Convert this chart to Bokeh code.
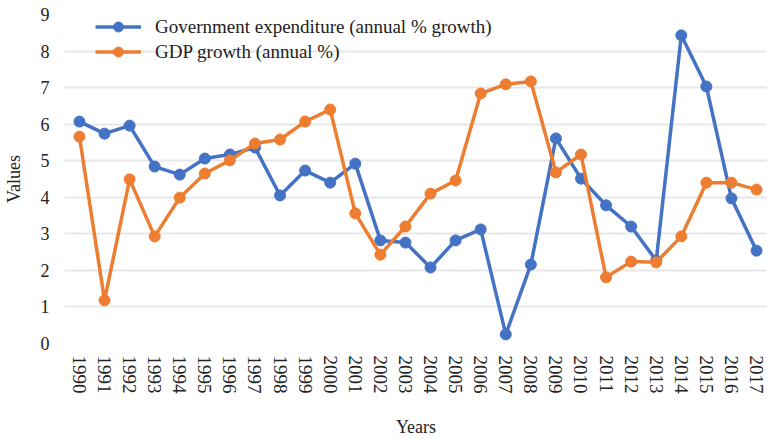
from bokeh.plotting import figure
from bokeh.models import Legend, LegendItem, FixedTicker, Range1d
from bokeh.embed import file_html
from bokeh.resources import INLINE

years = list(range(1990, 2018))
gov_exp = [6.07, 5.74, 5.96, 4.84, 4.62, 5.06, 5.17, 5.36, 4.05, 4.73, 4.40, 4.92,
           2.82, 2.76, 2.08, 2.82, 3.12, 0.25, 2.16, 5.61, 4.51, 3.78, 3.20, 2.27,
           8.43, 7.03, 3.97, 2.54]
gdp = [5.66, 1.18, 4.49, 2.93, 3.99, 4.65, 5.01, 5.47, 5.58, 6.07, 6.40, 3.56,
       2.43, 3.20, 4.10, 4.46, 6.84, 7.09, 7.17, 4.68, 5.17, 1.81, 2.24, 2.22,
       2.93, 4.40, 4.40, 4.21]
y_ticks = list(range(0, 10))

BLUE = "#4472C4"
ORANGE = "#ED7D31"
FONT = "Liberation Serif"

p = figure(width=767, height=439, output_backend="svg", toolbar_location=None,
           x_range=Range1d(1989.404, 2017.437), y_range=Range1d(0, 9))
p.min_border_left = 62
p.min_border_right = 0
p.min_border_top = 14
p.min_border_bottom = 96
p.outline_line_color = None

r1 = p.line(years, gov_exp, line_color=BLUE, line_width=3.5)
c1 = p.scatter(years, gov_exp, size=11, fill_color=BLUE, line_color=BLUE)
r2 = p.line(years, gdp, line_color=ORANGE, line_width=3.5)
c2 = p.scatter(years, gdp, size=11, fill_color=ORANGE, line_color=ORANGE)

legend = Legend(items=[
    LegendItem(label="Government expenditure (annual % growth)", renderers=[r1, c1]),
    LegendItem(label="GDP growth (annual %)", renderers=[r2, c2]),
], location=(31, 279))
legend.background_fill_alpha = 0
legend.border_line_color = None
legend.label_text_font = FONT
legend.label_text_font_size = "19px"
legend.label_text_color = "#222222"
legend.glyph_width = 46
legend.glyph_height = 25
legend.label_height = 25
legend.label_standoff = 14
legend.spacing = 0
legend.padding = 0
legend.margin = 0
p.add_layout(legend, "center")

p.xaxis.ticker = FixedTicker(ticks=years)
p.xaxis.major_label_orientation = "vertical"
p.yaxis.ticker = FixedTicker(ticks=y_ticks)
for ax in (p.xaxis[0], p.yaxis[0]):
    ax.axis_line_color = None
    ax.major_tick_line_color = None
    ax.minor_tick_line_color = None
    ax.major_label_text_font = FONT
    ax.major_label_text_color = "#222222"
    ax.axis_label_text_font = FONT
    ax.axis_label_text_font_size = "18px"
    ax.axis_label_text_font_style = "normal"
    ax.axis_label_text_color = "#222222"

p.xaxis.major_label_text_font_size = "19px"
p.yaxis.major_label_text_font_size = "18px"
p.xaxis.axis_label = "Years"
p.yaxis.axis_label = "Values"
p.xaxis.major_label_standoff = 6
p.xaxis.axis_label_standoff = 20
p.yaxis.major_label_standoff = 9
p.yaxis.axis_label_standoff = 14

p.xgrid.grid_line_color = None
p.ygrid.grid_line_color = "#e8e8e8"
p.ygrid.grid_line_width = 2

open("out.html", "w").write(file_html(p, INLINE))
